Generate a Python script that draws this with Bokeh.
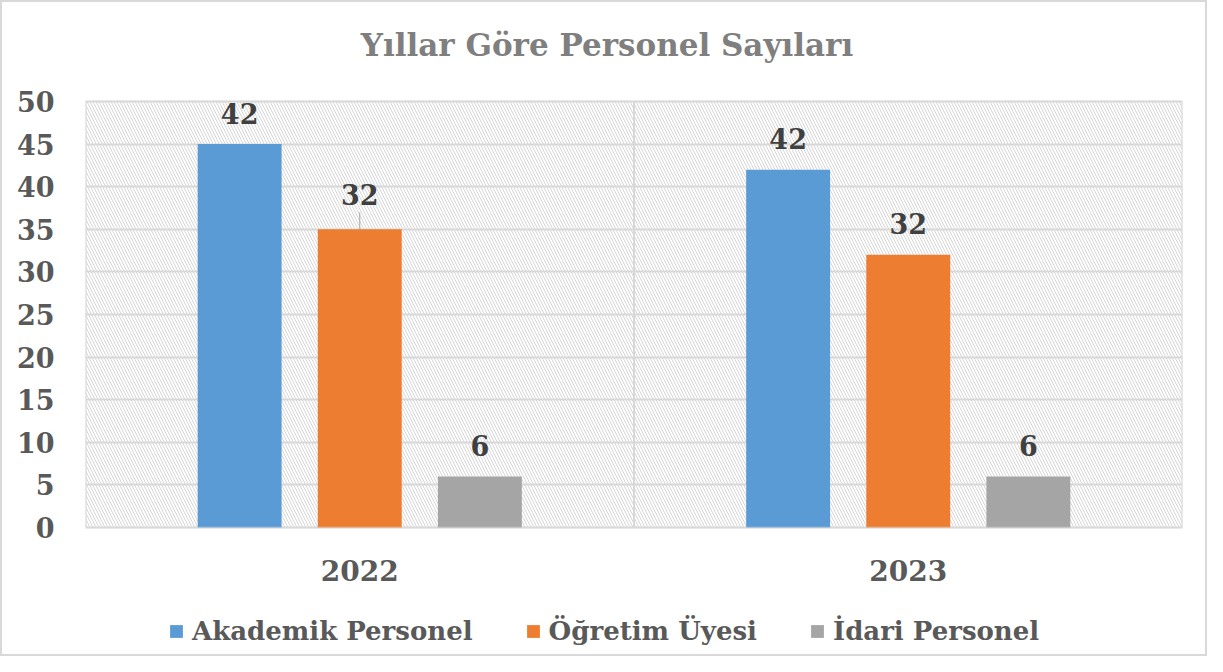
import numpy as np
from bokeh.plotting import figure
from bokeh.models import (ColumnDataSource, FixedTicker, Legend, LegendItem,
                          BoxAnnotation, Label, Range1d)
from bokeh.core.properties import value
from bokeh.embed import file_html
from bokeh.resources import INLINE

# ---- data ----
title_text = "Yıllar Göre Personel Sayıları"
years = ["2022", "2023"]
series_names = ["Akademik Personel", "Öğretim Üyesi", "İdari Personel"]
akademik = [45, 42]
ogretim = [35, 32]
idari = [6, 6]
# data labels as printed in the chart
akademik_labels = ["42", "42"]
ogretim_labels = ["32", "32"]
idari_labels = ["6", "6"]
y_ticks = [0, 5, 10, 15, 20, 25, 30, 35, 40, 45, 50]

colors = ["#5b9bd5", "#ed7d31", "#a5a5a5"]
FONT = "DejaVu Serif"
GRID = "#d9d9d9"

# pixel layout (canvas 1203 x 652, plot area 1097 x 426)
PX_PER_UNIT = 426 / (y_ticks[-1] - y_ticks[0])
TOP_PX, BOTTOM_PX = 99, 127
y_lo = y_ticks[0] - BOTTOM_PX / PX_PER_UNIT
y_hi = y_ticks[-1] + TOP_PX / PX_PER_UNIT

# label styling: default offset above bar, plus one moved label with leader line
LABEL_OFFSET_PX = -31
MOVED_LABEL = (1, 0)        # (series index, year index)
MOVED_EXTRA_PX = -4
LEADER_PX = 17

p = figure(frame_width=1097, frame_height=426 + TOP_PX + BOTTOM_PX,
           x_range=Range1d(0, len(years)), y_range=Range1d(y_lo, y_hi),
           x_axis_location=None, output_backend="svg", toolbar_location=None,
           min_border_left=83, min_border_right=23, min_border_top=0,
           min_border_bottom=0)
p.styles = {"border": "2px solid #d9d9d9"}
p.background_fill_color = "white"
p.border_fill_color = "white"
p.outline_line_color = None

# hatched plot area background
p.add_layout(BoxAnnotation(bottom=y_ticks[0], top=y_ticks[-1], fill_alpha=0,
                           line_alpha=0, hatch_pattern="\\", hatch_color="#d6d6d6",
                           hatch_scale=6, hatch_weight=1, level="underlay"))

# horizontal grid
p.ygrid.ticker = FixedTicker(ticks=y_ticks)
p.ygrid.grid_line_color = GRID
p.ygrid.grid_line_width = 2
p.xgrid.visible = False

# vertical category boundaries, limited to the plot area
bounds = list(range(len(years) + 1))
p.segment(x0=bounds, x1=bounds, y0=[y_ticks[0]] * len(bounds),
          y1=[y_ticks[-1]] * len(bounds), line_color=GRID, line_width=2,
          level="underlay")

group_pos = np.arange(len(years)) + 0.5
offsets = [-0.219, 0.0, 0.219]
bar_w = 0.153
series_vals = [akademik, ogretim, idari]
series_labels = [akademik_labels, ogretim_labels, idari_labels]

renderers = []
for si, (vals, labs, off, col) in enumerate(zip(series_vals, series_labels,
                                                 offsets, colors)):
    yoff = [LABEL_OFFSET_PX + (MOVED_EXTRA_PX if (si, yi) == MOVED_LABEL else 0)
            for yi in range(len(vals))]
    src = ColumnDataSource(dict(x=group_pos + off, top=vals, lab=labs, yoff=yoff))
    r = p.vbar(x="x", top="top", bottom=0, width=bar_w, source=src,
               fill_color=col, line_color=None)
    renderers.append(r)
    p.text(x="x", y="top", text="lab", source=src, text_align="center",
           text_baseline="alphabetic", y_offset="yoff",
           text_font=value(FONT), text_font_style="bold",
           text_font_size="27px", text_color="#404040")

# leader line for the moved data label
ms, my = MOVED_LABEL
lx = group_pos[my] + offsets[ms]
ltop = series_vals[ms][my]
p.segment(x0=[lx], x1=[lx], y0=[ltop], y1=[ltop + LEADER_PX / PX_PER_UNIT],
          line_color="#a6a6a6", line_width=1)

# border of the plot area drawn over bars
p.add_layout(BoxAnnotation(bottom=y_ticks[0], top=y_ticks[-1], fill_alpha=0,
                           line_color=GRID, line_width=2))

# category (year) labels under the plot area
ysrc = ColumnDataSource(dict(x=group_pos, y=[y_ticks[0]] * len(years), t=years))
p.text(x="x", y="y", text="t", source=ysrc, text_align="center",
       text_baseline="middle", y_offset=43, text_font=value(FONT),
       text_font_style="bold", text_font_size="28px", text_color="#595959")

# y axis
p.yaxis.ticker = FixedTicker(ticks=y_ticks)
p.yaxis.axis_line_color = None
p.yaxis.major_tick_line_color = None
p.yaxis.minor_tick_line_color = None
p.yaxis.major_label_standoff = 25
p.yaxis.major_label_text_font = FONT
p.yaxis.major_label_text_font_style = "bold"
p.yaxis.major_label_text_font_size = "27px"
p.yaxis.major_label_text_color = "#595959"

# title
p.add_layout(Label(x=len(years) / 2, y=y_ticks[-1], x_offset=-27, y_offset=57,
                   text=title_text, text_align="center", text_baseline="middle",
                   text_font=FONT, text_font_style="bold",
                   text_font_size="31px", text_color="#7f7f7f"))

legend = Legend(items=[LegendItem(label=n, renderers=[r])
                       for n, r in zip(series_names, renderers)],
                orientation="horizontal", location=(83, 8),
                label_text_font=FONT, label_text_font_style="bold",
                label_text_font_size="26px", label_text_color="#595959",
                glyph_width=16, glyph_height=16, label_standoff=8,
                spacing=52, border_line_color=None, background_fill_alpha=0,
                margin=0, padding=5)
p.add_layout(legend)

open("out.html", "w").write(file_html(p, INLINE))
